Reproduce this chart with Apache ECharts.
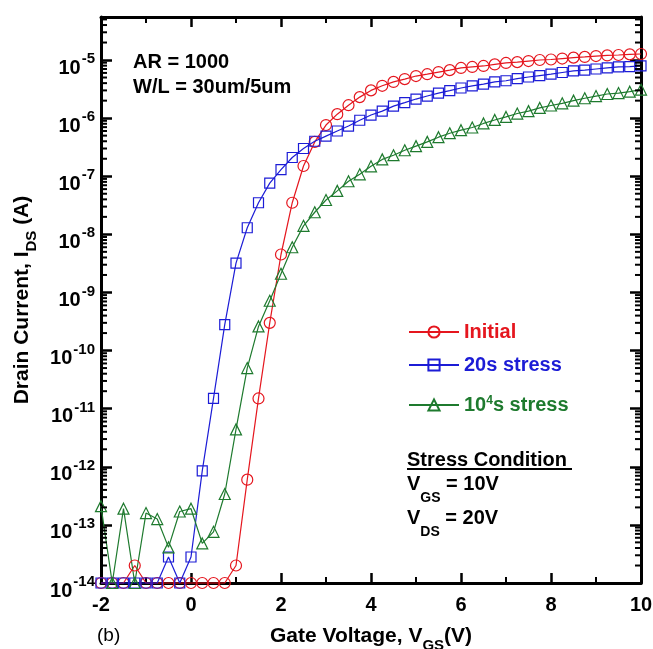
<!DOCTYPE html>
<html>
<head>
<meta charset="utf-8">
<script src="https://cdn.jsdelivr.net/npm/echarts@6/dist/echarts.min.js"></script>
<style>
  html, body { margin: 0; padding: 0; background: #fff; }
  #chart { width: 653px; height: 649px; }
</style>
</head>
<body>
<div id="chart"></div>
<script>
// Transfer curves (I_DS vs V_GS) before and after gate-bias stress
const gateVoltage = [
  -2, -1.75, -1.5, -1.25, -1, -0.75, -0.5, -0.25, 0, 0.25, 0.5, 0.75,
  1, 1.25, 1.5, 1.75, 2, 2.25, 2.5, 2.75, 3, 3.25, 3.5, 3.75,
  4, 4.25, 4.5, 4.75, 5, 5.25, 5.5, 5.75, 6, 6.25, 6.5, 6.75,
  7, 7.25, 7.5, 7.75, 8, 8.25, 8.5, 8.75, 9, 9.25, 9.5, 9.75, 10
];

const initialCurrent = [
  1e-14, 1e-14, 1e-14, 2e-14, 1e-14, 1e-14, 1e-14, 1e-14, 1e-14, 1e-14, 1e-14, 1e-14,
  2e-14, 6e-13, 1.5e-11, 3e-10, 4.5e-9, 3.5e-8, 1.5e-7, 3.9e-7, 7.6e-7, 1.17e-6, 1.67e-6, 2.3e-6,
  3.0e-6, 3.6e-6, 4.2e-6, 4.7e-6, 5.3e-6, 5.7e-6, 6.2e-6, 6.7e-6, 7.3e-6, 7.6e-6, 7.9e-6, 8.4e-6,
  8.9e-6, 9.2e-6, 9.6e-6, 1.0e-5, 1.02e-5, 1.06e-5, 1.1e-5, 1.13e-5, 1.17e-5, 1.2e-5, 1.22e-5, 1.25e-5, 1.27e-5
];

const stress20sCurrent = [
  1e-14, 1e-14, 1e-14, 1e-14, 1e-14, 1e-14, 2.8e-14, 1e-14, 2.8e-14, 8.5e-13, 1.5e-11, 2.8e-10,
  3.2e-9, 1.3e-8, 3.5e-8, 7.6e-8, 1.3e-7, 2.1e-7, 3.0e-7, 4.0e-7, 4.9e-7, 6.0e-7, 7.3e-7, 9.2e-7,
  1.13e-6, 1.32e-6, 1.61e-6, 1.85e-6, 2.13e-6, 2.4e-6, 2.7e-6, 2.98e-6, 3.3e-6, 3.6e-6, 3.85e-6, 4.2e-6,
  4.4e-6, 4.8e-6, 5.1e-6, 5.4e-6, 5.7e-6, 6.1e-6, 6.5e-6, 6.7e-6, 7.0e-6, 7.3e-6, 7.6e-6, 7.7e-6, 7.9e-6
];

const stress1e4sCurrent = [
  2.1e-13, 1e-14, 1.9e-13, 1e-14, 1.6e-13, 1.26e-13, 4.1e-14, 1.7e-13, 1.9e-13, 4.8e-14, 7.6e-14, 3.4e-13,
  4.4e-12, 5e-11, 2.6e-10, 7.2e-10, 2.1e-9, 6e-9, 1.4e-8, 2.4e-8, 3.9e-8, 5.6e-8, 8.2e-8, 1.08e-7,
  1.48e-7, 1.95e-7, 2.3e-7, 2.8e-7, 3.3e-7, 3.9e-7, 4.7e-7, 5.5e-7, 6.2e-7, 6.9e-7, 8.1e-7, 9.3e-7,
  1.05e-6, 1.2e-6, 1.32e-6, 1.5e-6, 1.65e-6, 1.8e-6, 2.0e-6, 2.2e-6, 2.4e-6, 2.6e-6, 2.7e-6, 2.85e-6, 3.1e-6
];

const seriesNames = ['Initial', '20s stress', '10^4s stress'];

// Axis ranges: x in volts, y in decades (log10 of amperes)
const X_MIN = -2, X_MAX = 10, X_STEP = 2;
const Y_MIN_EXP = -14, Y_MAX_EXP = Math.log10(5.5e-5);

const FONT = '"Liberation Sans", Arial, Helvetica, sans-serif';
const RED = '#e5161e', BLUE = '#1c1cd6', GREEN = '#1e7a2e';

const toLogPairs = values => gateVoltage.map((v, i) => [v, Math.log10(values[i])]);

// Logarithmic minor tick positions (2..9 x 10^n) inside the y range
const minorTickData = [];
for (let e = Y_MIN_EXP; e < Math.ceil(Y_MAX_EXP); e++) {
  for (let k = 2; k <= 9; k++) {
    const t = e + Math.log10(k);
    if (t < Y_MAX_EXP) minorTickData.push([X_MIN, t]);
  }
}

function isWholeDecade(v) { return Math.abs(v - Math.round(v)) < 1e-6; }

function curve(name, values, symbol, size, color) {
  return {
    name: name,
    type: 'line',
    data: toLogPairs(values),
    symbol: symbol,
    symbolSize: size,
    clip: false,
    lineStyle: { color: color, width: 1.2 },
    itemStyle: { color: 'rgba(255,255,255,0)', borderColor: color, borderWidth: 1.2 },
    emphasis: { disabled: true },
    z: 3
  };
}

const axisLineStyle = { color: '#000', width: 3 };

function xAxisDef(position, showLabels) {
  return {
    type: 'value', position: position, min: X_MIN, max: X_MAX, interval: X_STEP,
    axisLine: { show: true, onZero: false, lineStyle: axisLineStyle },
    axisTick: { show: true, inside: true, length: 10, lineStyle: { color: '#000', width: 2.5 } },
    minorTick: { show: true, splitNumber: 2, length: 6, lineStyle: { color: '#000', width: 2 } },
    splitLine: { show: false },
    axisLabel: {
      show: showLabels, margin: 12, color: '#000',
      fontFamily: FONT, fontWeight: 'bold', fontSize: 20
    }
  };
}

function yAxisDef(position, showLabels) {
  return {
    type: 'value', position: position, min: Y_MIN_EXP, max: Y_MAX_EXP, interval: 1,
    axisLine: { show: true, onZero: false, lineStyle: axisLineStyle },
    axisTick: { show: true, inside: true, length: 11, lineStyle: { color: '#000', width: 2.5 } },
    splitLine: { show: false },
    axisLabel: {
      show: showLabels, margin: 6, color: '#000',
      padding: [2, 0, 0, 0],
      formatter: v => isWholeDecade(v) ? '{b|10}{s|' + Math.round(v) + '}' : '',
      rich: {
        b: { fontFamily: FONT, fontWeight: 'bold', fontSize: 20, lineHeight: 20, padding: [14, 0, 0, 0], color: '#000' },
        s: { fontFamily: FONT, fontWeight: 'bold', fontSize: 15, lineHeight: 15, padding: [0, 0, 4, 1], color: '#000' }
      }
    }
  };
}

const xBottom = xAxisDef('bottom', true);
xBottom.name = '{t|Gate Voltage, V}{sub|GS}{t|(V)}';
xBottom.nameLocation = 'middle';
xBottom.nameGap = 40;
xBottom.nameTextStyle = {
  rich: {
    t: { fontFamily: FONT, fontWeight: 'bold', fontSize: 21, lineHeight: 21, color: '#000' },
    sub: { fontFamily: FONT, fontWeight: 'bold', fontSize: 15, lineHeight: 15, padding: [18, 0, 0, 0], color: '#000' }
  }
};

const yLeft = yAxisDef('left', true);
yLeft.name = '{t|Drain Current, I}{sub|DS}{t| (A)}';
yLeft.nameLocation = 'middle';
yLeft.nameGap = 58;
yLeft.nameTextStyle = {
  rich: {
    t: { fontFamily: FONT, fontWeight: 'bold', fontSize: 21, lineHeight: 21, color: '#000' },
    sub: { fontFamily: FONT, fontWeight: 'bold', fontSize: 15, lineHeight: 15, padding: [18, 0, 0, 0], color: '#000' }
  }
};

function legendDef(name, color, top, formatter) {
  return {
    data: [name], left: 408, top: top, padding: 0,
    itemWidth: 50, itemHeight: 14, itemGap: 6,
    selectedMode: false,
    formatter: formatter,
    textStyle: {
      color: color, fontFamily: FONT, fontWeight: 'bold', fontSize: 20,
      rich: {
        t: { color: color, fontFamily: FONT, fontWeight: 'bold', fontSize: 20, lineHeight: 20 },
        sup: { color: color, fontFamily: FONT, fontWeight: 'bold', fontSize: 12, lineHeight: 12, padding: [0, 0, 8, 0] }
      }
    }
  };
}

const subRich = {
  v: { fontFamily: FONT, fontWeight: 'bold', fontSize: 20, lineHeight: 20, fill: '#000' },
  sub: { fontFamily: FONT, fontWeight: 'bold', fontSize: 14, lineHeight: 14, padding: [28, 0, 0, 0], fill: '#000' }
};

const chart = echarts.init(document.getElementById('chart'), null, { renderer: 'canvas' });

chart.setOption({
  animation: false,
  backgroundColor: '#fff',
  grid: { left: 101, right: 12, top: 17, bottom: 66, containLabel: false, outerBoundsMode: 'none' },
  xAxis: [xBottom, xAxisDef('top', false)],
  yAxis: [yLeft, yAxisDef('right', false)],
  legend: [
    legendDef(seriesNames[0], RED, 322, '{t|Initial}'),
    legendDef(seriesNames[1], BLUE, 355, '{t|20s stress}'),
    legendDef(seriesNames[2], GREEN, 395, '{t|10}{sup|4}{t|s stress}')
  ],
  series: [
    curve(seriesNames[0], initialCurrent, 'circle', 11, RED),
    curve(seriesNames[1], stress20sCurrent, 'rect', 10, BLUE),
    curve(seriesNames[2], stress1e4sCurrent, 'triangle', 11, GREEN),
    {
      type: 'custom',
      data: minorTickData,
      silent: true,
      clip: false,
      z: 5,
      renderItem: function (params, api) {
        const y = api.value(1);
        const l = api.coord([X_MIN, y]);
        const r = api.coord([X_MAX, y]);
        return {
          type: 'group',
          children: [
            { type: 'line', shape: { x1: l[0], y1: l[1], x2: l[0] + 6, y2: l[1] }, style: { stroke: '#000', lineWidth: 2 } },
            { type: 'line', shape: { x1: r[0] - 6, y1: r[1], x2: r[0], y2: r[1] }, style: { stroke: '#000', lineWidth: 2 } }
          ]
        };
      }
    }
  ],
  graphic: [
    { type: 'text', x: 133, y: 62, style: { text: 'AR = 1000', font: 'bold 20px ' + FONT, fill: '#000', verticalAlign: 'middle' } },
    { type: 'text', x: 133, y: 87, style: { text: 'W/L = 30um/5um', font: 'bold 20px ' + FONT, fill: '#000', verticalAlign: 'middle' } },
    { type: 'text', x: 407, y: 460, style: { text: 'Stress Condition', font: 'bold 20px ' + FONT, fill: '#000', verticalAlign: 'middle' } },
    { type: 'line', shape: { x1: 407, y1: 469, x2: 572, y2: 469 }, style: { stroke: '#000', lineWidth: 2 } },
    { type: 'text', x: 407, y: 484, style: { text: '{v|V}{sub|GS}{v| = 10V}', rich: subRich, verticalAlign: 'middle' } },
    { type: 'text', x: 407, y: 518, style: { text: '{v|V}{sub|DS}{v| = 20V}', rich: subRich, verticalAlign: 'middle' } },
    { type: 'text', x: 97, y: 636, style: { text: '(b)', font: '19px ' + FONT, fill: '#000', verticalAlign: 'middle' } }
  ]
});
</script>
</body>
</html>
